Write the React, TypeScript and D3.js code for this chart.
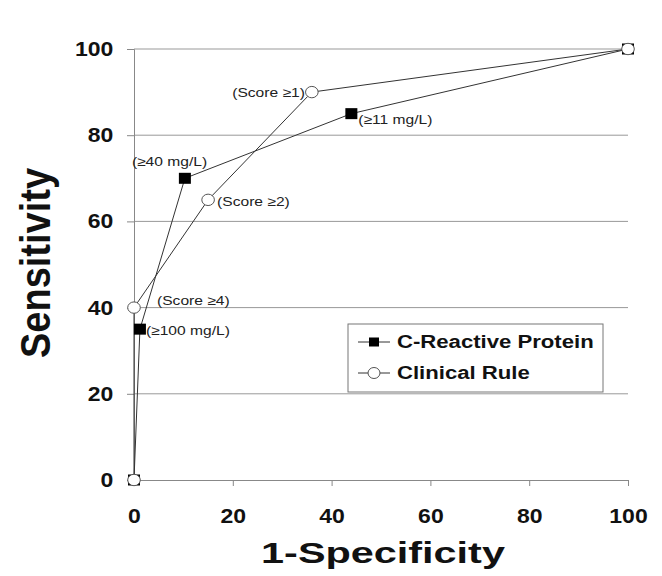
import React, { useEffect, useRef } from 'react';
import * as d3 from 'd3';

const crpX = [0, 1.2, 10.3, 44, 100];
const crpY = [0, 35, 70, 85, 100];
const crpLabels = ['', '(≥100 mg/L)', '(≥40 mg/L)', '(≥11 mg/L)', ''];

const ruleX = [0, 0, 15, 36, 100];
const ruleY = [0, 40, 65, 90, 100];
const ruleLabels = ['', '(Score ≥4)', '(Score ≥2)', '(Score ≥1)', ''];

const ticks = [0, 20, 40, 60, 80, 100];

const App = () => {
  const chartRef = useRef<SVGSVGElement>(null);

  useEffect(() => {
    const svg = d3.select(chartRef.current).attr('width', 662).attr('height', 576);
    svg.selectAll('*').remove();

    const x = d3.scaleLinear().domain([0, 100]).range([134, 628]);
    const y = d3.scaleLinear().domain([0, 100]).range([480, 49]);

    svg.append('rect').attr('width', 662).attr('height', 576).attr('fill', '#fff');

    // horizontal grid
    svg.append('g')
      .selectAll('line')
      .data(ticks.filter((t) => t > 0))
      .enter()
      .append('line')
      .attr('x1', x(0)).attr('x2', x(100))
      .attr('y1', (d) => y(d)).attr('y2', (d) => y(d))
      .attr('stroke', '#999').attr('stroke-width', 1);

    const font = 'Arial, "Liberation Sans", sans-serif';

    const yAxis = svg.append('g').attr('transform', `translate(${x(0)},0)`)
      .call(d3.axisLeft(y).tickValues(ticks).tickSize(7).tickPadding(11));
    const xAxis = svg.append('g').attr('transform', `translate(0,${y(0)})`)
      .call(d3.axisBottom(x).tickValues(ticks).tickSize(6).tickPadding(23));

    [yAxis, xAxis].forEach((a) => {
      a.select('.domain').attr('stroke', '#888');
      a.selectAll('.tick line').attr('stroke', '#888');
      a.selectAll('.tick text')
        .attr('fill', '#111')
        .attr('font-family', font)
        .attr('font-weight', 'bold')
        .attr('font-size', 20)
        .attr('transform', 'scale(1.15,1)');
    });

    const line = d3.line<[number, number]>();

    const drawSeries = (xs: number[], ys: number[]) => {
      const pts = xs.map((v, i) => [x(v), y(ys[i])] as [number, number]);
      svg.append('path')
        .attr('d', line(pts))
        .attr('fill', 'none')
        .attr('stroke', '#333')
        .attr('stroke-width', 1);
      return pts;
    };

    const crpPts = drawSeries(crpX, crpY);
    const rulePts = drawSeries(ruleX, ruleY);

    svg.append('g')
      .selectAll('rect')
      .data(crpPts)
      .enter()
      .append('rect')
      .attr('x', (d) => d[0] - 6).attr('y', (d) => d[1] - 5.5)
      .attr('width', 12).attr('height', 11)
      .attr('fill', '#000');

    svg.append('g')
      .selectAll('ellipse')
      .data(rulePts)
      .enter()
      .append('ellipse')
      .attr('cx', (d) => d[0]).attr('cy', (d) => d[1])
      .attr('rx', 6.3).attr('ry', 5.7)
      .attr('fill', '#fff')
      .attr('stroke', '#555')
      .attr('stroke-width', 1);

    // stretched text helper (source figure is widened horizontally)
    const label = (tx: number, ty: number, t: string, size: number, sx: number, anchor = 'start', bold = false, rot = 0) =>
      svg.append('text')
        .attr('transform', `translate(${tx},${ty}) scale(${sx},1)${rot ? ` rotate(${rot})` : ''}`)
        .attr('text-anchor', anchor)
        .attr('font-family', font)
        .attr('font-weight', bold ? 'bold' : 'normal')
        .attr('font-size', size)
        .attr('fill', '#111')
        .text(t);

    // point labels
    const labelOffsets: Record<string, [number, number, string]> = {
      '(≥100 mg/L)': [6, 6, 'start'],
      '(≥40 mg/L)': [-53, -12, 'start'],
      '(≥11 mg/L)': [7, 10, 'start'],
      '(Score ≥4)': [23, -3, 'start'],
      '(Score ≥2)': [9, 6, 'start'],
      '(Score ≥1)': [-7, 5, 'end'],
    };
    [
      ...crpLabels.map((t, i) => ({ t, p: crpPts[i] })),
      ...ruleLabels.map((t, i) => ({ t, p: rulePts[i] })),
    ]
      .filter((d) => d.t)
      .forEach((d) => {
        const o = labelOffsets[d.t];
        label(d.p[0] + o[0], d.p[1] + o[1], d.t, 13, 1.2, o[2]).attr('fill', '#222');
      });

    // axis titles
    label(383, 563, '1-Specificity', 30, 1.38, 'middle', true);
    label(50, 263, 'Sensitivity', 38, 1.1, 'middle', true, -90);

    // legend
    const lg = svg.append('g').attr('transform', 'translate(348,324)');
    lg.append('rect').attr('width', 255).attr('height', 68)
      .attr('fill', '#fff').attr('stroke', '#777').attr('stroke-width', 1);
    const entries = [
      { name: 'C-Reactive Protein', shape: 'square' },
      { name: 'Clinical Rule', shape: 'circle' },
    ];
    entries.forEach((e, i) => {
      const cy = 18 + i * 31;
      lg.append('line').attr('x1', 10).attr('x2', 42).attr('y1', cy).attr('y2', cy)
        .attr('stroke', '#333');
      if (e.shape === 'square') {
        lg.append('rect').attr('x', 21).attr('y', cy - 4.5).attr('width', 10).attr('height', 9).attr('fill', '#000');
      } else {
        lg.append('ellipse').attr('cx', 26).attr('cy', cy).attr('rx', 6).attr('ry', 5.5)
          .attr('fill', '#fff').attr('stroke', '#555');
      }
      label(348 + 49, 324 + cy + 5.5, e.name, 18, 1.23, 'start', true);
    });
  }, []);

  return <svg ref={chartRef} style={{ position: 'absolute', left: 0, top: 0 }}></svg>;
};

export default App;
